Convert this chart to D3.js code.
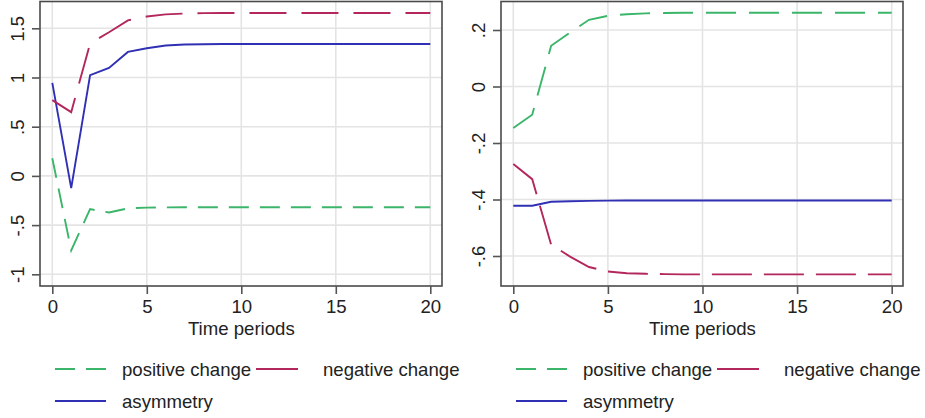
<!DOCTYPE html>
<html>
<head>
<meta charset="utf-8">
<script src="https://cdn.jsdelivr.net/npm/d3@7"></script>
<style>
  html, body { margin: 0; padding: 0; background: #fff; }
  svg { display: block; }
  text { font-family: "Liberation Sans", Arial, sans-serif; fill: #222; }
</style>
</head>
<body>
<svg id="chart" width="925" height="418"></svg>
<script>
// ---------- data ----------
const periods = [0,1,2,3,4,5,6,7,8,9,10,11,12,13,14,15,16,17,18,19,20];

const posLeft  = [0.18,-0.757,-0.338,-0.372,-0.330,-0.322,-0.320,-0.319,-0.318,-0.318,-0.318,-0.318,-0.318,-0.318,-0.318,-0.318,-0.318,-0.318,-0.318,-0.318,-0.318];
const negLeft  = [0.77,0.648,1.346,1.46,1.58,1.62,1.642,1.650,1.654,1.655,1.656,1.656,1.656,1.656,1.656,1.656,1.656,1.656,1.656,1.656,1.656];
const asymLeft = [0.946,-0.125,1.024,1.098,1.26,1.297,1.325,1.335,1.338,1.340,1.340,1.340,1.340,1.340,1.340,1.340,1.340,1.340,1.340,1.340,1.340];

const posRight  = [-0.147,-0.100,0.144,0.191,0.236,0.250,0.256,0.259,0.260,0.261,0.261,0.261,0.261,0.261,0.261,0.261,0.261,0.261,0.261,0.261,0.261];
const negRight  = [-0.274,-0.328,-0.560,-0.602,-0.639,-0.655,-0.661,-0.663,-0.664,-0.665,-0.665,-0.665,-0.665,-0.665,-0.665,-0.665,-0.665,-0.665,-0.665,-0.665,-0.665];
const asymRight = [-0.422,-0.422,-0.408,-0.406,-0.405,-0.404,-0.4035,-0.4035,-0.4035,-0.4035,-0.4035,-0.4035,-0.4035,-0.4035,-0.4035,-0.4035,-0.4035,-0.4035,-0.4035,-0.4035,-0.4035];

const xTicks = [0,5,10,15,20];
const xTickLabels = ["0","5","10","15","20"];
const yTicksLeft = [-1,-0.5,0,0.5,1,1.5];
const yTickLabelsLeft = ["-1","-.5","0",".5","1","1.5"];
const yTicksRight = [-0.6,-0.4,-0.2,0,0.2];
const yTickLabelsRight = ["-.6","-.4","-.2","0",".2"];

const seriesNames = ["positive change","negative change","asymmetry"];
const xTitle = "Time periods";

// ---------- styles ----------
const colors = { pos: "#3bb56a", neg: "#b3275c", asym: "#3030b5" };
const FS = 18.6;

const svg = d3.select("#chart");
svg.append("rect").attr("width",925).attr("height",418).attr("fill","#fff");

function panel(cfg) {
  const g = svg.append("g");
  const x = d3.scaleLinear().domain([0,20]).range([cfg.x0, cfg.x1]);
  const y = d3.scaleLinear().domain(cfg.yDomain).range(cfg.yRange);

  // grid
  g.selectAll(".vg").data(xTicks).enter().append("line")
    .attr("x1", d => x(d)).attr("x2", d => x(d))
    .attr("y1", cfg.top).attr("y2", cfg.bottom)
    .attr("stroke", "#e4e4e4").attr("stroke-width", 1.6);
  g.selectAll(".hg").data(cfg.yTicks).enter().append("line")
    .attr("x1", cfg.left).attr("x2", cfg.right)
    .attr("y1", d => y(d)).attr("y2", d => y(d))
    .attr("stroke", "#e4e4e4").attr("stroke-width", 1.6);

  // series
  const line = d3.line().x((d,i) => x(periods[i])).y(d => y(d));
  const clipId = "clip" + cfg.id;
  svg.append("clipPath").attr("id", clipId).append("rect")
    .attr("x", cfg.left).attr("y", cfg.top).attr("width", cfg.right - cfg.left).attr("height", cfg.bottom - cfg.top);
  const lg = g.append("g").attr("clip-path", `url(#${clipId})`);
  lg.append("path").datum(cfg.asym).attr("d", line)
    .attr("fill","none").attr("stroke", colors.asym).attr("stroke-width", 1.9);
  lg.append("path").datum(cfg.neg).attr("d", line)
    .attr("fill","none").attr("stroke", colors.neg).attr("stroke-width", 1.9)
    .attr("stroke-dasharray", cfg.negDash);
  lg.append("path").datum(cfg.pos).attr("d", line)
    .attr("fill","none").attr("stroke", colors.pos).attr("stroke-width", 1.9)
    .attr("stroke-dasharray", cfg.posDash);

  // frame
  g.append("rect").attr("x", cfg.left).attr("y", cfg.top)
    .attr("width", cfg.right - cfg.left).attr("height", cfg.bottom - cfg.top)
    .attr("fill","none").attr("stroke","#4a4a4a").attr("stroke-width",1.6);

  // x axis
  const xa = g.append("g").attr("transform", `translate(0,${cfg.bottom})`)
    .call(d3.axisBottom(x).tickValues(xTicks).tickSize(8).tickPadding(6)
      .tickFormat((d,i) => xTickLabels[i]));
  xa.select(".domain").remove();
  xa.selectAll("line").attr("stroke","#555").attr("stroke-width",1.6);
  xa.selectAll("text").attr("font-size", FS).attr("fill","#222")
    .attr("font-family", '"Liberation Sans", Arial, sans-serif');

  // y axis
  const ya = g.append("g").attr("transform", `translate(${cfg.left},0)`)
    .call(d3.axisLeft(y).tickValues(cfg.yTicks).tickSize(8).tickPadding(0)
      .tickFormat((d,i) => cfg.yLabels[i]));
  ya.select(".domain").remove();
  ya.selectAll("line").attr("stroke","#555").attr("stroke-width",1.6);
  ya.selectAll("text").attr("font-size", FS).attr("fill","#222")
    .attr("font-family", '"Liberation Sans", Arial, sans-serif')
    .attr("x", null)
    .attr("text-anchor","middle")
    .attr("transform", "translate(-23,0) rotate(-90)")
    .attr("dy", "0.35em");

  // x title
  g.append("text").attr("x", (x(0)+x(20))/2).attr("y", 334.5)
    .attr("text-anchor","middle").attr("font-size",FS).text(xTitle);

  // legend
  const ox = cfg.legendOffset;
  g.append("line").attr("x1", 55+ox).attr("x2", 106+ox).attr("y1", 369).attr("y2", 369)
    .attr("stroke", colors.pos).attr("stroke-width", 1.9).attr("stroke-dasharray", "20,11");
  g.append("text").attr("x", 122+ox).attr("y", 375.5).attr("font-size",FS).text(seriesNames[0]);
  g.append("line").attr("x1", 256+ox).attr("x2", 298+ox).attr("y1", 369).attr("y2", 369)
    .attr("stroke", colors.neg).attr("stroke-width", 1.9);
  g.append("text").attr("x", 323+ox).attr("y", 375.5).attr("font-size",FS).text(seriesNames[1]);
  g.append("line").attr("x1", 55+ox).attr("x2", 106+ox).attr("y1", 401).attr("y2", 401)
    .attr("stroke", colors.asym).attr("stroke-width", 1.9);
  g.append("text").attr("x", 122+ox).attr("y", 407.5).attr("font-size",FS).text(seriesNames[2]);
}

panel({
  id: "L", left: 40, right: 442, top: 1.5, bottom: 286,
  x0: 52.3, x1: 430.3,
  yDomain: [-1, 1.5], yRange: [274.3, 28.3],
  yTicks: yTicksLeft, yLabels: yTickLabelsLeft,
  pos: posLeft, neg: negLeft, asym: asymLeft,
  posDash: "20,11", negDash: "37,15", legendOffset: 0
});
panel({
  id: "R", left: 501, right: 903, top: 1.5, bottom: 286,
  x0: 513.3, x1: 891.7,
  yDomain: [-0.6, 0.2], yRange: [256, 30],
  yTicks: yTicksRight, yLabels: yTickLabelsRight,
  pos: posRight, neg: negRight, asym: asymRight,
  posDash: "30,13", negDash: "40,12", legendOffset: 461
});
</script>
</body>
</html>
